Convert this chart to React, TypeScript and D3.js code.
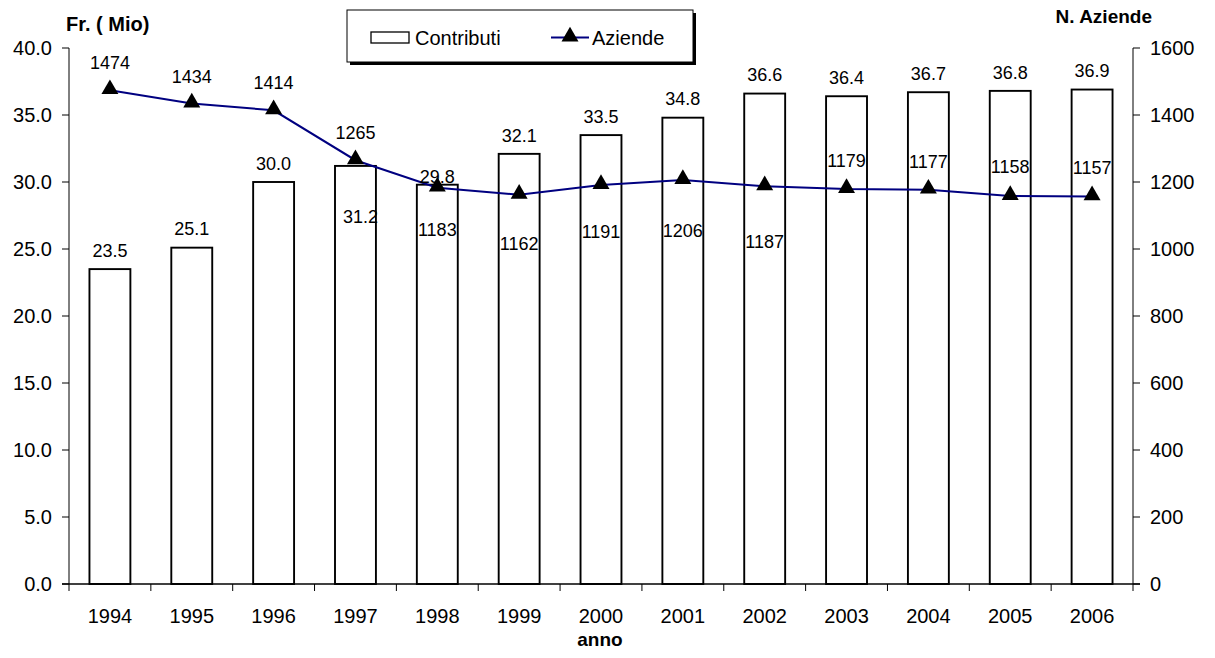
import React from "react";
import * as d3 from "d3";

const years = ["1994","1995","1996","1997","1998","1999","2000","2001","2002","2003","2004","2005","2006"];
const contributi = [23.5, 25.1, 30.0, 31.2, 29.8, 32.1, 33.5, 34.8, 36.6, 36.4, 36.7, 36.8, 36.9];
const aziende = [1474, 1434, 1414, 1265, 1183, 1162, 1191, 1206, 1187, 1179, 1177, 1158, 1157];
const leftTicks = [0, 5, 10, 15, 20, 25, 30, 35, 40];
const rightTicks = [0, 200, 400, 600, 800, 1000, 1200, 1400, 1600];

// label placement (style): vertical offsets of value labels relative to their mark
const barLabelDy = [-18.5, -18.5, -18.5, 50.5, -8, -18.5, -18.5, -18.5, -18.5, -18.5, -18.5, -18.5, -18.5];
const barLabelDx = [0, 0, 0, 5, 0, 0, 0, 0, 0, 0, 0, 0, 0];
const lineLabelDy = [-28, -27, -28, -28, 42, 49, 47, 51, 55, -28, -28, -29, -29];

const FONT = "'Liberation Sans', Arial, sans-serif";

export default function App() {
  const W = 1215, H = 658;
  const left = 69, right = 1133, top = 48, bottom = 584;
  const x = d3.scaleBand<string>().domain(years).range([left, right]).paddingInner(0.5).paddingOuter(0.25);
  const xb = d3.scaleBand<string>().domain(years).range([left, right]);
  const yL = d3.scaleLinear().domain([0, 40]).range([bottom, top]);
  const yR = d3.scaleLinear().domain([0, 1600]).range([bottom, top]);
  const cx = (y: string) => (xb(y) as number) + xb.bandwidth() / 2;
  const line = d3.line<number>().x((_, i) => cx(years[i])).y(d => yR(d));
  const tri = d3.symbol().type(d3.symbolTriangle).size(125)();

  return (
    <svg width={W} height={H} style={{ position: "absolute", left: 0, top: 0, fontFamily: FONT }}>
      <rect x={0} y={0} width={W} height={H} fill="#fff" />
      {/* bars */}
      {contributi.map((v, i) => (
        <rect key={i} x={x(years[i])} y={yL(v)} width={x.bandwidth()} height={bottom - yL(v)}
          fill="#fff" stroke="#000" strokeWidth={1.9} />
      ))}
      {/* axes */}
      <line x1={left} x2={left} y1={top} y2={bottom} stroke="#000" strokeWidth={1} />
      <line x1={right} x2={right} y1={top} y2={bottom} stroke="#000" strokeWidth={1} />
      <line x1={left - 7} x2={right + 7} y1={bottom} y2={bottom} stroke="#000" strokeWidth={1.3} />
      {leftTicks.map(t => (
        <g key={"l" + t}>
          <line x1={left - 7} x2={left} y1={yL(t)} y2={yL(t)} stroke="#000" />
          <text x={52} y={yL(t)} dy="0.35em" textAnchor="end" fontSize={20}>{t.toFixed(1)}</text>
        </g>
      ))}
      {rightTicks.map(t => (
        <g key={"r" + t}>
          <line x1={right} x2={right + 7} y1={yR(t)} y2={yR(t)} stroke="#000" />
          <text x={1150} y={yR(t)} dy="0.35em" textAnchor="start" fontSize={20}>{t}</text>
        </g>
      ))}
      {years.map((y, i) => (
        <line key={"bt" + i} x1={xb(y)} x2={xb(y)} y1={bottom} y2={bottom + 7} stroke="#000" />
      ))}
      <line x1={right} x2={right} y1={bottom} y2={bottom + 7} stroke="#000" />
      {years.map(y => (
        <text key={"bl" + y} x={cx(y)} y={616} dy="0.35em" textAnchor="middle" fontSize={20}>{y}</text>
      ))}
      {/* line */}
      <path d={line(aziende) || ""} fill="none" stroke="#000080" strokeWidth={2} />
      {aziende.map((v, i) => (
        <path key={"m" + i} d={tri || ""} transform={`translate(${cx(years[i])},${yR(v) - 1})`} fill="#000" />
      ))}
      {/* labels */}
      {contributi.map((v, i) => (
        <text key={"bv" + i} x={cx(years[i]) + barLabelDx[i]} y={yL(v) + barLabelDy[i]} dy="0.35em"
          textAnchor="middle" fontSize={18}>{v.toFixed(1)}</text>
      ))}
      {aziende.map((v, i) => (
        <text key={"av" + i} x={cx(years[i])} y={yR(v) + lineLabelDy[i]} dy="0.35em"
          textAnchor="middle" fontSize={18}>{v}</text>
      ))}
      {/* titles */}
      <text x={66} y={31} fontSize={20} fontWeight="bold">Fr. ( Mio)</text>
      <text x={1152} y={23} fontSize={19} fontWeight="bold" textAnchor="end">N. Aziende</text>
      <text x={600} y={639} dy="0.35em" fontSize={19} fontWeight="bold" textAnchor="middle">anno</text>
      {/* legend */}
      <rect x={350} y={13} width={346} height={52} fill="#000" />
      <rect x={347} y={10} width={346} height={52} fill="#fff" stroke="#000" strokeWidth={1} />
      <rect x={371} y={32} width={38} height={11} fill="#fff" stroke="#000" strokeWidth={1.3} />
      <text x={415} y={37.5} dy="0.35em" fontSize={20}>Contributi</text>
      <line x1={551} x2={589} y1={37.5} y2={37.5} stroke="#000080" strokeWidth={2} />
      <path d={tri || ""} transform="translate(570,36.5)" fill="#000" />
      <text x={592} y={37.5} dy="0.35em" fontSize={20}>Aziende</text>
    </svg>
  );
}
